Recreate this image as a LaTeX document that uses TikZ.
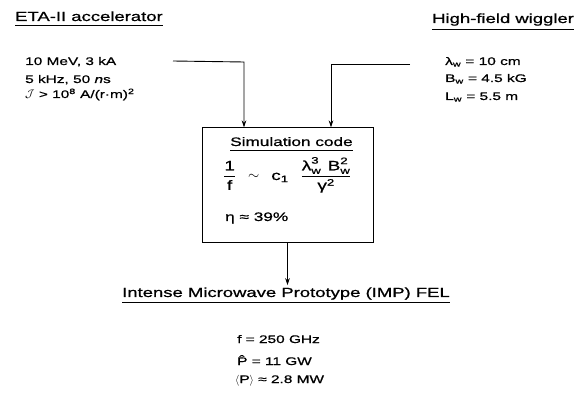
\documentclass[tikz,border=0pt]{standalone}
\usepackage{amsmath}
\usepackage{fontspec}
\setmainfont[FakeStretch=1.4,FakeBold=0.8]{Liberation Sans}
\usetikzlibrary{arrows.meta}
\tikzset{
  txt/.style={inner sep=0pt, anchor=base west, font=\fontsize{11}{13}\selectfont},
  hdr/.style={inner sep=0pt, anchor=base west, font=\fontsize{13.2}{15}\selectfont},
  inbox/.style={inner sep=0pt, anchor=base west, font=\fontsize{12.3}{14}\selectfont},
  frm/.style={inner sep=0pt, anchor=base west, font=\fontsize{13.5}{16}\selectfont},
  conn/.style={line width=0.9pt, -{Stealth[length=7pt,width=4.5pt]}},
  ul/.style={line width=0.8pt},
  simbox/.style={draw, line width=1pt, inner sep=0pt, minimum width=171pt, minimum height=115pt}
}
\begin{document}
\begin{tikzpicture}[x=1pt,y=-1pt]
\useasboundingbox (0,0) rectangle (579,393);
% headers
\node[hdr] (eta) at (15,21) {ETA-II accelerator};
\draw[ul] ([yshift=-4pt]eta.base west) -- ([yshift=-4pt]eta.base east);
\node[hdr] (wig) at (432,23) {High-field wiggler};
\draw[ul] ([yshift=-6pt]wig.base west) -- ([yshift=-6pt]wig.base east);
% left block
\node[txt] (l1) at (25,65) {10 MeV, 3 kA};
\node[txt] (l2) at (25,83) {5 kHz, 50 \textit{n}s};
\node[txt] (l3) at (25,98) {$\mathcal{J}$ > 10\textsuperscript{8} A/(r·m)\textsuperscript{2}};
% right block
\node[txt] (r1) at (445,65) {λ\textsubscript{w} = 10 cm};
\node[txt] (r2) at (445,82) {B\textsubscript{w} = 4.5 kG};
\node[txt] (r3) at (445,100) {L\textsubscript{w} = 5.5 m};
% box
\node[simbox] (sim) at (287.5,185.5) {};
\node[inbox] (simt) at (230,146) {Simulation code};
\draw[ul] ([yshift=-4pt]simt.base west) -- ([yshift=-4pt]simt.base east);
\node[frm] (form) at (223,180) {$\dfrac{\text{1}}{\text{f}}\;\;\sim\;\;\text{c}_{\text{1}}\;\;\;\dfrac{\text{λ}^{\text{3}}_{\text{w}}\;\,\text{B}^{\text{2}}_{\text{w}}}{\text{γ}^{\text{2}}}$};
\node[inbox] (eta2) at (225,221) {η ≈ 39\%};
% connectors
\coordinate (la) at (173,61);
\coordinate (lb) at (244,62);
\coordinate (ra) at (410,64);
\coordinate (rb) at (331,64);
\draw[conn] (la) -- (lb) -- (lb |- sim.north);
\draw[conn] (ra) -- (rb) -- (rb |- sim.north);
% output
\node[hdr] (imp) at (122,297) {Intense Microwave Prototype (IMP) FEL};
\draw[ul] ([yshift=-5pt]imp.base west) -- ([yshift=-5pt]imp.base east);
\draw[conn, shorten >=2pt] (sim.south) -- (sim.south |- imp.north);
\node[txt] (o1) at (237,343) {f = 250 GHz};
\node[txt] (o2) at (237,365) {\^{P} = 11 GW};
\node[txt] (o3) at (235,383) {$\langle$P$\rangle$ ≈ 2.8 MW};
\end{tikzpicture}
\end{document}
